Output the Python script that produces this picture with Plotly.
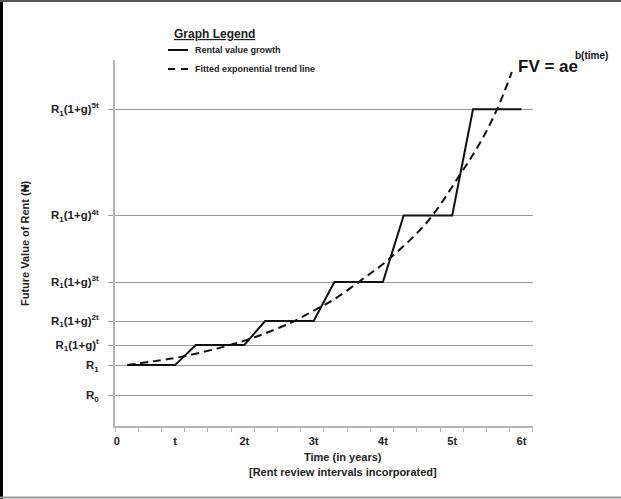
import plotly.graph_objects as go

# ---------------- data (x in units of review interval t) ----------------
step_x = [0.32, 1.0, 1.3, 2.0, 2.3, 3.0, 3.3, 4.0, 4.3, 5.0, 5.3, 6.0]
step_y = [2.03, 2.03, 2.7, 2.7, 3.5, 3.5, 4.8, 4.8, 7.02, 7.02, 10.56, 10.56]

trend_x = [0.31, 0.64, 1.12, 1.97, 2.66, 2.99, 3.28, 3.71, 4.07, 4.64, 5.11, 5.40, 5.65, 5.86]
trend_y = [2.03, 2.14, 2.32, 2.82, 3.43, 3.83, 4.20, 4.90, 5.53, 6.80, 8.37, 9.43, 10.57, 11.80]

ytick_vals = [1.02, 2.03, 2.7, 3.5, 4.8, 7.02, 10.56]
ytick_text = ["R<sub>0</sub>", "R<sub>1</sub>", "R<sub>1</sub>(1+g)<sup>t</sup>",
              "R<sub>1</sub>(1+g)<sup>2t</sup>", "R<sub>1</sub>(1+g)<sup>3t</sup>",
              "R<sub>1</sub>(1+g)<sup>4t</sup>", "R<sub>1</sub>(1+g)<sup>5t</sup>"]
xtick_vals = [0.16, 1, 2, 3, 4, 5, 6]
xtick_text = ["0", "t", "2t", "3t", "4t", "5t", "6t"]

legend_names = ["Rental value growth", "Fitted exponential trend line"]

# ---------------- layout helpers ----------------
W, H = 621, 499
L, R, T, B = 115, 88, 60, 73
PW, PH = W - L - R, H - T - B


def px(x):
    return (x - L) / PW


def py(y):
    return (H - B - y) / PH


FONT = "Liberation Sans, Arial, sans-serif"
TXT = "#222222"

fig = go.Figure()
fig.add_trace(go.Scatter(x=step_x, y=step_y, mode="lines", name=legend_names[0],
                         line=dict(color="#111111", width=2), showlegend=False))
fig.add_trace(go.Scatter(x=trend_x, y=trend_y, mode="lines", name=legend_names[1],
                         line=dict(color="#111111", width=2, dash="8px,5px", shape="spline"),
                         showlegend=False))

shapes = []
# legend samples
shapes.append(dict(type="line", xref="paper", yref="paper", x0=px(168), x1=px(188),
                   y0=py(50), y1=py(50), line=dict(color="#111", width=2)))
shapes.append(dict(type="line", xref="paper", yref="paper", x0=px(168), x1=px(189),
                   y0=py(69), y1=py(69), line=dict(color="#111", width=2, dash="7px,6px")))
# image frame
shapes.append(dict(type="line", xref="paper", yref="paper", x0=px(1.5), x1=px(1.5),
                   y0=py(0), y1=py(499), line=dict(color="#000", width=3)))
shapes.append(dict(type="line", xref="paper", yref="paper", x0=px(0), x1=px(621),
                   y0=py(1), y1=py(1), line=dict(color="#555", width=2)))
shapes.append(dict(type="line", xref="paper", yref="paper", x0=px(0), x1=px(621),
                   y0=py(497.5), y1=py(497.5), line=dict(color="#999", width=2)))


def note(x, y, text, size, color=TXT, xanchor="left", angle=0):
    return dict(x=px(x), y=py(y), xref="paper", yref="paper", text=text, showarrow=False,
                xanchor=xanchor, yanchor="middle", textangle=angle,
                font=dict(size=size, color=color, family=FONT))


ann = [
    note(214, 34, "<b><u>Graph Legend</u></b>", 12, xanchor="center"),
    note(193, 50, "<b>" + legend_names[0] + "</b>", 9),
    note(193, 69, "<b>" + legend_names[1] + "</b>", 9),
    note(516, 66, "<b>FV = ae</b>", 17, color="#111"),
    note(573, 55, "<b>b(time)</b>", 10, color="#111"),
    note(25, 243, "<b>Future Value of Rent (₦)</b>", 11, xanchor="center", angle=-90),
    note(343, 457, "<b>Time (in years)</b>", 11, xanchor="center"),
    note(343, 472, "<b>[Rent review intervals incorporated]</b>", 11, xanchor="center"),
]

fig.update_layout(
    width=W, height=H,
    margin=dict(l=L, r=R, t=T, b=B, pad=0),
    paper_bgcolor="white", plot_bgcolor="white",
    shapes=shapes, annotations=ann,
    xaxis=dict(range=[0.134, 6.166], tickmode="array", tickvals=xtick_vals, ticktext=xtick_text,
               ticks="", showgrid=False, zeroline=False, showline=True,
               linecolor="#b5b5b5", linewidth=2, ticklabelstandoff=4,
               tickfont=dict(size=11, color=TXT, family=FONT, weight="bold"),
               minor=dict(tickmode="linear", tick0=0.134, dtick=0.3351, ticks="outside",
                          ticklen=4, tickcolor="#b5b5b5", tickwidth=1, showgrid=False)),
    yaxis=dict(range=[0, 12.2], tickmode="array", tickvals=ytick_vals, ticktext=ytick_text,
               ticks="outside", ticklen=5, tickcolor="#9a9a9a", tickwidth=1,
               showgrid=True, gridcolor="#9a9a9a", gridwidth=1, zeroline=False,
               showline=True, linecolor="#b5b5b5", linewidth=2, ticklabelstandoff=7,
               tickfont=dict(size=11.5, color=TXT, family=FONT, weight="bold")),
)

fig.write_html("out.html", post_script="document.body.style.margin='0';",
               config={"displayModeBar": False})
